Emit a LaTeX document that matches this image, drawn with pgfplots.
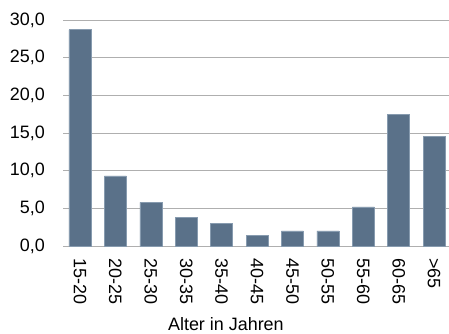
\documentclass[border=0pt]{standalone}
\usepackage{pgfplots}
\pgfplotsset{compat=1.18}
\usepackage{fontspec}
\setmainfont{Liberation Sans}
\definecolor{barfill}{RGB}{90,113,137}
\definecolor{baredge}{RGB}{135,155,175}
\definecolor{gridc}{RGB}{175,175,175}
\begin{document}
\begin{tikzpicture}
\path[use as bounding box] (-63bp,-88bp) rectangle (386bp,246bp);
\begin{axis}[
  at={(0,0)}, anchor=south west,
  scale only axis,
  width=386bp, height=226bp,
  xmin=-0.48, xmax=10.42,
  ymin=0, ymax=30,
  ytick={0,5,...,30},
  xtick=data,
  xticklabels={15-20,20-25,25-30,30-35,35-40,40-45,45-50,50-55,55-60,60-65,>65},
  axis lines*=left,
  x axis line style={draw=gridc, line width=1bp, -},
  y axis line style={draw=none},
  ymajorgrids,
  grid style={draw=gridc, line width=1bp},
  major tick length=0pt,
  tick style={draw=none},
  font=\fontsize{18}{21}\selectfont,
  /pgf/number format/assume math mode=true,
  yticklabel={\pgfmathprintnumber[fixed,fixed zerofill,precision=1,use comma]{\tick}},
  yticklabel style={anchor=east, inner sep=0pt, xshift=-18bp},
  xticklabel style={rotate=-90, anchor=west, inner sep=0pt},
  xticklabel shift=12bp,
  xlabel={Alter in Jahren},
  every axis x label/.style={at={(axis description cs:0.422,0)}, anchor=base, yshift=-84bp, font=\fontsize{18}{21}\selectfont},
  ybar, bar width=22bp,
]
\addplot[fill=barfill, draw=baredge, line width=0.6bp] coordinates {
(0,28.7) (1,9.3) (2,5.8) (3,3.8) (4,3.0) (5,1.4) (6,2.0) (7,2.0) (8,5.2) (9,17.5) (10,14.6)
};
\end{axis}
\end{tikzpicture}
\end{document}
